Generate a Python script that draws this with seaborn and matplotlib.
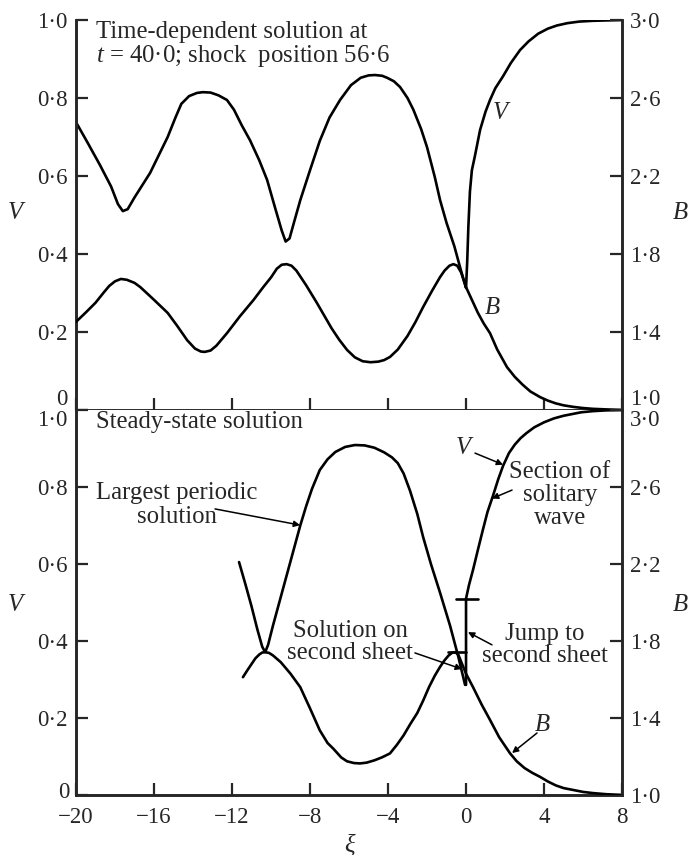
import matplotlib
matplotlib.use("Agg")
import matplotlib.pyplot as plt
import seaborn as sns
import pandas as pd

# ---------------- data ----------------
# Top panel: time-dependent solution (V on left axis, B on right axis)
top_v_xi = [-20, -19.4, -18.77, -18.2, -17.85, -17.6, -17.35, -17.0, -16.2, -15.3, -14.9, -14.6,
            -14.2, -13.8, -13.5, -13.1, -12.7, -12.26, -11.9, -11.5, -11.08, -10.6, -10.2, -9.8,
            -9.45, -9.25, -9.05, -8.8, -8.5, -8.0, -7.5, -7.0, -6.46, -5.9, -5.4, -5.0, -4.67,
            -4.3, -4.05, -3.7, -3.38, -3.0, -2.7, -2.3, -2.0, -1.6, -1.33, -1.0, -0.6, -0.3,
            -0.1, 0.0, 0.06, 0.12, 0.2, 0.3, 0.45, 0.72, 1.0, 1.23, 1.5, 1.9, 2.3, 2.77, 3.2,
            3.7, 4.2, 4.66, 5.2, 5.8, 6.5, 7.2, 8.0]
top_v = [0.738, 0.685, 0.628, 0.573, 0.528, 0.51, 0.515, 0.545, 0.608, 0.70, 0.75, 0.785,
         0.805, 0.813, 0.815, 0.814, 0.807, 0.795, 0.77, 0.73, 0.692, 0.64, 0.59, 0.52,
         0.46, 0.432, 0.44, 0.485, 0.538, 0.615, 0.69, 0.75, 0.795, 0.833, 0.852, 0.858, 0.859,
         0.857, 0.852, 0.843, 0.828, 0.80, 0.77, 0.72, 0.674, 0.597, 0.538, 0.48, 0.42, 0.365,
         0.33, 0.313, 0.38, 0.47, 0.56, 0.615, 0.65, 0.718, 0.765, 0.795, 0.825, 0.856, 0.89,
         0.923, 0.945, 0.965, 0.978, 0.986, 0.992, 0.996, 0.998, 0.999, 1.0]

top_b_xi = [-20, -19.5, -19, -18.6, -18.3, -18.0, -17.7, -17.4, -17.0, -16.7, -16.0, -15.3,
            -14.8, -14.3, -13.9, -13.6, -13.4, -13.1, -12.8, -12.26, -11.6, -10.9, -10.4,
            -10.0, -9.7, -9.45, -9.2, -8.95, -8.7, -8.2, -7.64, -6.9, -6.5, -6.1, -5.7, -5.3,
            -4.9, -4.5, -4.2, -3.9, -3.5, -3.0, -2.6, -2.2, -1.75, -1.33, -1.1, -0.85, -0.65,
            -0.45, -0.25, 0.0, 0.3, 0.6, 0.9, 1.23, 1.6, 2.1, 2.5, 2.9, 3.3, 3.8, 4.2, 4.6,
            5.0, 5.5, 6.0, 6.5, 7.2, 8.0]
top_b = [1.452, 1.50, 1.55, 1.60, 1.636, 1.66, 1.672, 1.668, 1.652, 1.63, 1.565, 1.498,
         1.43, 1.358, 1.315, 1.30, 1.298, 1.305, 1.33, 1.394, 1.48, 1.564, 1.63,
         1.68, 1.725, 1.745, 1.748, 1.74, 1.715, 1.64, 1.548, 1.42, 1.36, 1.308, 1.27, 1.25,
         1.245, 1.248, 1.256, 1.272, 1.31, 1.38, 1.45, 1.528, 1.61, 1.682, 1.715, 1.74, 1.748,
         1.74, 1.705, 1.63, 1.565, 1.50, 1.445, 1.394, 1.31, 1.22, 1.17, 1.13, 1.095, 1.066,
         1.048, 1.034, 1.024, 1.016, 1.01, 1.006, 1.003, 1.0]

# Bottom panel: steady-state solution
per_v_xi = [-11.64, -11.3, -11.0, -10.7, -10.45, -10.3, -10.15, -9.9, -9.2, -8.5, -8.2, -7.9,
            -7.5, -7.1, -6.7, -6.2, -5.7, -5.2, -4.7, -4.2, -3.8, -3.5, -3.2, -2.87, -2.5,
            -2.2, -1.8, -1.33, -0.82, -0.4, -0.05]
per_v = [0.605, 0.545, 0.49, 0.43, 0.385, 0.371, 0.39, 0.44, 0.57, 0.70, 0.75, 0.795,
         0.844, 0.872, 0.891, 0.904, 0.909, 0.908, 0.902, 0.89, 0.877, 0.862, 0.835, 0.79, 0.73,
         0.67, 0.60, 0.525, 0.44, 0.36, 0.286]

sol_v_xi = [0.0, 0.0, 0.15, 0.36, 0.6, 0.87, 1.1, 1.4, 1.65, 1.9, 2.2, 2.5, 2.8, 3.1, 3.5,
            4.0, 4.5, 5.0, 5.5, 5.9, 6.5, 7.2, 8.0]
sol_v = [0.286, 0.51, 0.545, 0.585, 0.635, 0.69, 0.735, 0.78, 0.82, 0.855, 0.888, 0.91,
         0.927, 0.94, 0.955, 0.968, 0.978, 0.985, 0.99, 0.994, 0.997, 0.999, 1.0]

jump_mark_xi = [-0.5, 0.6]
jump_mark_v = [0.51, 0.51]
sheet_bar_xi = [-0.9, 0.0]
sheet_bar_v = [0.371, 0.371]

bot_b_xi = [-11.44, -11.2, -11.0, -10.8, -10.6, -10.45, -10.3, -10.1, -9.9, -9.5, -9.0, -8.5,
            -8.0, -7.5, -7.1, -6.8, -6.4, -6.1, -5.75, -5.44, -5.1, -4.7, -4.3, -3.9, -3.55,
            -3.2, -2.85, -2.5, -2.2, -1.9, -1.6, -1.33, -1.1, -0.9, -0.7, -0.56, -0.4, -0.2,
            0.0, 0.36, 0.8, 1.23, 1.7, 2.26, 2.6, 3.0, 3.4, 3.8, 4.2, 4.6, 5.0, 5.5, 6.0, 6.5,
            7.2, 8.0]
bot_b = [1.612, 1.65, 1.68, 1.71, 1.73, 1.74, 1.742, 1.738, 1.725, 1.69, 1.63, 1.56,
         1.45, 1.336, 1.27, 1.24, 1.195, 1.175, 1.166, 1.164, 1.168, 1.18, 1.196, 1.216, 1.26,
         1.31, 1.37, 1.426, 1.49, 1.56, 1.62, 1.666, 1.70, 1.724, 1.74, 1.742, 1.73, 1.68,
         1.63, 1.56, 1.47, 1.39, 1.30, 1.216, 1.175, 1.14, 1.115, 1.094, 1.07, 1.05, 1.036,
         1.026, 1.016, 1.01, 1.004, 1.0]

x_ticks = [-20, -16, -12, -8, -4, 0, 4, 8]
x_labels = ["\u221220", "\u221216", "\u221212", "\u22128", "\u22124", "0", "4", "8"]
v_ticks = [0, 0.2, 0.4, 0.6, 0.8, 1.0]
v_labels = ["0", "0\u00b72", "0\u00b74", "0\u00b76", "0\u00b78", "1\u00b70"]
b_ticks = [1.0, 1.4, 1.8, 2.2, 2.6, 3.0]
b_labels = ["1\u00b70", "1\u00b74", "1\u00b78", "2\u00b72", "2\u00b76", "3\u00b70"]

# ---------------- style ----------------
sns.set_style("ticks")
plt.rcParams["font.family"] = ["Liberation Serif", "DejaVu Serif"]
plt.rcParams["mathtext.fontset"] = "custom"
plt.rcParams["mathtext.rm"] = "Liberation Serif"
plt.rcParams["mathtext.it"] = "Liberation Serif:italic"

FS = 16.5     # tick labels
TS = 17.8     # annotation text
LW = 1.9
SPW = 2.1

fig = plt.figure(figsize=(6.91, 8.55), dpi=100)
ax_top = fig.add_axes([0.1100, 0.52047, 0.7902, 0.4561])
ax_bot = fig.add_axes([0.1100, 0.07018, 0.7902, 0.4503])
axb_top = ax_top.twinx()
axb_bot = ax_bot.twinx()


def line(ax, xs, ys):
    df = pd.DataFrame({"x": xs, "y": ys})
    sns.lineplot(data=df, x="x", y="y", ax=ax, color="black", lw=LW, sort=False,
                 estimator=None, solid_joinstyle="round", solid_capstyle="round")


line(ax_top, top_v_xi, top_v)
line(axb_top, top_b_xi, top_b)
line(ax_bot, per_v_xi, per_v)
line(ax_bot, sol_v_xi, sol_v)
line(ax_bot, jump_mark_xi, jump_mark_v)
line(ax_bot, sheet_bar_xi, sheet_bar_v)
line(axb_bot, bot_b_xi, bot_b)

for ax, bax, show_x in [(ax_top, axb_top, False), (ax_bot, axb_bot, True)]:
    ax.set_xlim(-20, 8)
    ax.set_ylim(0, 1.0)
    bax.set_ylim(1.0, 3.0)
    ax.set_xticks(x_ticks)
    if show_x:
        ax.set_xticklabels(x_labels)
    else:
        ax.set_xticklabels([])
    ax.set_yticks(v_ticks)
    if show_x:
        ax.set_yticklabels([""] + v_labels[1:])
    else:
        ax.set_yticklabels(v_labels)
    bax.set_yticks(b_ticks)
    bax.set_yticklabels(b_labels)
    for a in (ax, bax):
        a.set_xlabel("")
        a.set_ylabel("")
        a.spines["top"].set_visible(False)
        for s in ("left", "right", "bottom"):
            a.spines[s].set_linewidth(SPW)
        a.tick_params(direction="in", length=8.5, width=1.6, labelsize=FS, pad=6)
    ax.tick_params(axis="x", pad=9)
    ax.spines["right"].set_visible(False)
    bax.spines["left"].set_visible(False)
    bax.spines["bottom"].set_visible(False)

# shift the labels at the panel junction
ax_top.get_yticklabels()[0].set_va("bottom")
axb_top.get_yticklabels()[0].set_va("bottom")
ax_bot.get_yticklabels()[-1].set_va("top")
axb_bot.get_yticklabels()[-1].set_va("top")
# origin label "0", nudged up slightly so it clears the -20 label
ax_bot.annotate(v_labels[0], xy=(0, 0), xycoords=("axes fraction", "data"),
                xytext=(-4.5, 1.5), textcoords="offset points", ha="right", va="center",
                fontsize=FS)

ax_bot.set_xlabel("\u03be", fontsize=TS, fontstyle="italic", labelpad=4)

# axis titles V and B
for yc in (213, 605):
    fig.text(15 / 691, 1 - yc / 855, "V", fontsize=TS, fontstyle="italic", ha="center", va="center")
    fig.text(680 / 691, 1 - yc / 855, "B", fontsize=TS, fontstyle="italic", ha="center", va="center")

# ---------------- annotations top ----------------
ax_top.text(-18.97, 0.970, "Time-dependent solution at", fontsize=TS, ha="left", va="center")
ax_top.text(-19.0, 0.908, "$t$ = 40\u00b70; shock  position 56\u00b76", fontsize=TS,
            ha="left", va="center")
ax_top.text(1.74, 0.762, "V", fontsize=TS, fontstyle="italic", ha="center", va="center")
ax_top.text(1.33, 0.262, "B", fontsize=TS, fontstyle="italic", ha="center", va="center")

# ---------------- annotations bottom ----------------
arrow = dict(arrowstyle="-|>", color="black", lw=1.1, mutation_scale=9, shrinkA=0, shrinkB=0)
ax_bot.text(-18.97, 0.969, "Steady-state solution", fontsize=TS, ha="left", va="center")
ax_bot.text(-14.82, 0.753, "Largest periodic\nsolution", fontsize=TS, ha="center", va="center",
            multialignment="center", linespacing=1.08)
ax_bot.annotate("", xy=(-8.51, 0.701), xytext=(-12.87, 0.743), arrowprops=arrow)

ax_bot.text(-0.15, 0.901, "V", fontsize=TS, fontstyle="italic", ha="center", va="center")
ax_bot.annotate("", xy=(1.9, 0.858), xytext=(0.46, 0.888), arrowprops=arrow)

ax_bot.text(4.82, 0.779, "Section of\nsolitary\nwave", fontsize=TS, ha="center", va="center",
            multialignment="center", linespacing=1.04)
ax_bot.annotate("", xy=(1.33, 0.77), xytext=(2.36, 0.792), arrowprops=arrow)

ax_bot.text(-5.95, 0.397, "Solution on\nsecond sheet", fontsize=TS, ha="center", va="center",
            multialignment="center", linespacing=1.04)
ax_bot.annotate("", xy=(-0.21, 0.327), xytext=(-2.62, 0.369), arrowprops=arrow)

ax_bot.text(4.05, 0.39, "Jump to\nsecond sheet", fontsize=TS, ha="center", va="center",
            multialignment="center", linespacing=1.04)
ax_bot.annotate("", xy=(0.1, 0.423), xytext=(1.33, 0.39), arrowprops=arrow)

ax_bot.text(3.9, 0.182, "B", fontsize=TS, fontstyle="italic", ha="center", va="center")
ax_bot.annotate("", xy=(2.36, 0.109), xytext=(3.64, 0.161), arrowprops=arrow)

fig.savefig("out.png", dpi=100)
